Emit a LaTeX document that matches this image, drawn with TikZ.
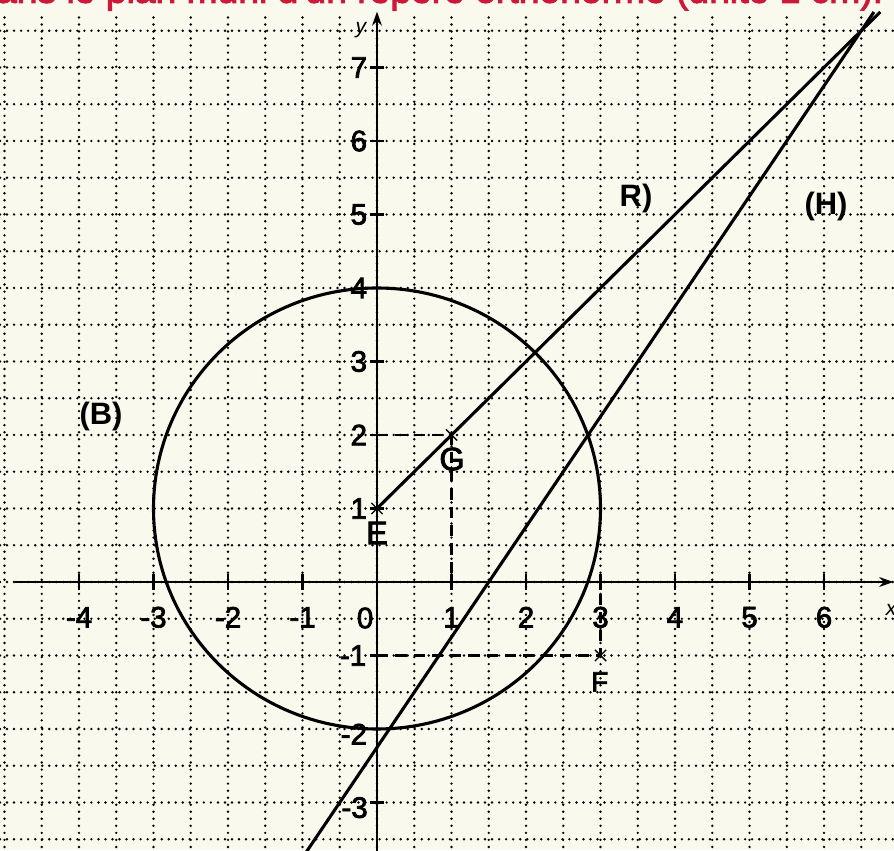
\documentclass[tikz,border=0pt]{standalone}
\usepackage{fontspec}
\setmainfont{Liberation Sans}
\newfontfamily\heavysans[FakeBold=2.5]{Liberation Sans}
\usetikzlibrary{arrows.meta,shapes.misc}
\definecolor{paper}{RGB}{249,249,238}
\definecolor{redtxt}{RGB}{205,25,55}
\begin{document}
\begin{tikzpicture}[x=1.8625cm,y=1.8375cm,
  gridline/.style={line width=1.9pt, dash pattern=on 0pt off 5pt, line cap=round, black},
  axisline/.style={line width=1.7pt, -{Stealth[length=10pt,width=7pt]}},
  tickline/.style={line width=1.5pt},
  curve/.style={line width=2.2pt},
  helper/.style={line width=2.1pt, dash pattern=on 8pt off 5pt},
  ticklab/.style={font=\heavysans\fontsize{21}{24}\selectfont, inner sep=0pt},
  ptlab/.style={font=\heavysans\fontsize{23}{26}\selectfont, inner sep=0pt},
  curvelab/.style={font=\bfseries\fontsize{22}{26}\selectfont, inner sep=0pt},
  ptcross/.style={cross out, draw, minimum size=7pt, inner sep=0pt, line width=1pt},
  axlab/.style={font=\itshape\fontsize{15}{18}\selectfont, inner sep=0pt}
]
\fill[paper] (-5.0604,-3.6463) rectangle (6.9396,7.9184);
\useasboundingbox (-5.0604,-3.6463) rectangle (6.9396,7.9184);
\clip (-5.0604,-3.6463) rectangle (6.9396,7.9184);

% header text (cut off at the top, as in the scan)
\node[anchor=base east, inner sep=0pt, text=redtxt, font=\heavysans\fontsize{26.5}{30}\selectfont] (title) at (6.80,7.88)
  {Dans le plan muni d'un repère orthonormé (unité 1 cm).};

% dotted grid
\foreach \gx in {-5,-4.5,...,6.6} \draw[gridline] (\gx,-3.7) -- (\gx,7.75);
\foreach \gy in {-3.5,-3,...,7.6} \draw[gridline] (-5.06,\gy) -- (6.94,\gy);

% axes
\coordinate (O) at (0,0);
\coordinate (xs) at (-4.86,0);
\coordinate (xe) at (6.93,0);
\coordinate (ys) at (0,-3.7);
\coordinate (ye) at (0,7.76);
\draw[axisline] (xs) -- (xe);
\draw[axisline] (ys) -- (ye);
\foreach \i in {-4,...,6} \draw[tickline] (\i,-0.11) -- (\i,0.11);
\foreach \j in {-3,...,7} \draw[tickline] (-0.1,\j) -- (0.1,\j);

\foreach \i in {-4,-3,-2,-1,1,2,3,4,5,6}
  \node[ticklab] (xl\i) at (\i,-0.48) {\i};
\node[ticklab] (xl0) at (-0.16,-0.49) {0};
\foreach \j in {1,2,...,7}
  \node[ticklab, anchor=east] (yl\j) at (-0.13,\j) {\j};
\node[ticklab, anchor=east] (ylm1) at (-0.14,-1) {-1};
\node[ticklab, anchor=east] (ylm2) at (-0.13,-2.07) {-2};
\node[ticklab, anchor=east] (ylm3) at (-0.12,-3.07) {-3};
\node[axlab] (ylab) at (-0.215,7.51) {y};
\node[axlab] (xlab) at (6.9,-0.38) {x};

% points
\coordinate (E) at (0,1);
\coordinate (G) at (1,2);
\coordinate (F) at (3,-1);
\coordinate (Gy) at (0,2);
\coordinate (Gx) at (1,0);
\coordinate (Fy) at (0,-1);
\coordinate (Fx) at (3,0);

% dashed coordinate lines
\draw[helper] (Gy) -- (G) -- (Gx);
\draw[helper] (Fy) -- (F) -- (Fx);

% circle (B)
\draw[curve] (E) circle [radius=3];

% ray (R) and line (H)
\coordinate (Rend) at (6.755,7.755);
\draw[curve] (E) -- (Rend);
\coordinate (Hbot) at (-0.9667,-3.7);
\coordinate (Htop) at (6.67,7.755);
\draw[curve] (Hbot) -- (Htop);

% point marks
\node[ptcross] (Em) at (E) {};
\node[ptcross] (Gm) at (G) {};
\node[ptcross] (Fm) at (F) {};

% labels
\node[ptlab] (Elab) at (0,0.667) {E};
\node[ptlab] (Glab) at (1.007,1.673) {G};
\node[ptlab, font=\heavysans\fontsize{20}{24}\selectfont] (Flab) at (2.99,-1.36) {F};
\node[curvelab] (Blab) at (-3.705,2.245) {(B)};
\node[curvelab] (Rlab) at (3.477,5.224) {R)};
\node[curvelab] (Hlab) at (6.027,5.102) {(H)};
\end{tikzpicture}
\end{document}
